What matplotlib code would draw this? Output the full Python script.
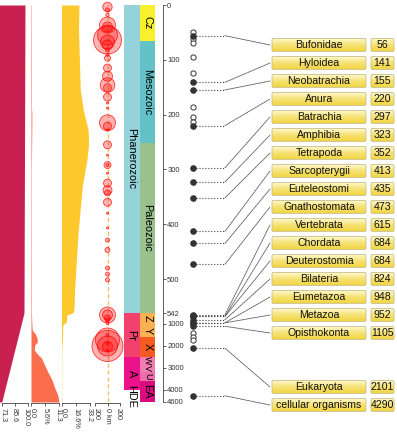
import numpy as np
import matplotlib.pyplot as plt
import matplotlib.transforms as mtransforms
from matplotlib.patches import ConnectionPatch, FancyBboxPatch
from matplotlib.colors import LinearSegmentedColormap

plt.rcParams['font.family'] = ['Liberation Sans', 'DejaVu Sans']

# time scale of the chart (Ma -> image row); Precambrian is squeezed
scale_ma = [-1000, 0, 500, 542, 1000, 2000, 3000, 4000, 4600, 10000]
scale_px = [-543, 5, 279, 313, 324, 346, 368, 390, 402, 510]

# panel 1 : solar luminosity (%)
lum_t = [0, 542, 4600]
lum_v = [97.2, 96.1, 71.3]

# panel 2 (%)
p2_t = [0, 100, 186, 200, 240, 300, 542, 917, 1273, 1455, 1636, 1818, 1955,
        2182, 2364, 2545, 2864, 3182, 3545, 3909, 4250, 4600]
p2_v = [0.15, 0.2, 0.2, 0.35, 0.3, 0.15, 0.2, 0.3, 0.5, 1.8, 2.4, 2.6, 1.5,
        1.3, 2.6, 4.2, 5.5, 6.8, 8.5, 9.6, 10.8, 11.3]

# panel 3 : oxygen (%)
o2_t = [0, 46, 100, 155, 192, 228, 255, 283, 332, 416, 505, 538, 542, 625,
        917, 1045, 1727, 2182, 4600]
o2_v = [20.0, 19.5, 20.5, 21.5, 25.0, 30.5, 31.0, 29.0, 23.7, 19.0, 15.4,
        14.2, 13.0, 6.0, 5.5, 1.5, 1.0, 0.3, 0.2]

# panel 4 : impact craters (age Ma, size km)
crater_t = [3.6, 9, 18, 36.5, 40, 55, 64, 67.5, 73, 82, 91, 97, 115, 130, 146,
            151, 168, 179, 188, 215, 221, 228, 255, 274, 292, 292, 307, 325,
            338, 343, 360, 380, 407, 429, 447, 480, 491, 501, 625, 625, 750,
            830, 958, 1500, 1727, 1860, 2000, 2000, 2020, 2180]
crater_km = [75, 32, 27, 128, 80, 160, 224, 112, 80, 32, 24, 48, 64, 80, 117,
             64, 64, 16, 16, 128, 64, 16, 64, 16, 56, 24, 16, 64, 72, 48, 64,
             16, 16, 32, 40, 32, 32, 32, 128, 80, 48, 32, 24, 24, 192, 24, 248,
             160, 80, 16]

# geologic time scale
eon_names = ['Phanerozoic', 'Pr', 'A', 'HDE']
eon_start = [0, 542, 2500, 4000]
eon_end = [542, 2500, 4000, 4600]
eon_colors = ['#95D3DB', '#F1416C', '#EC128A', '#FFFFFF']
era_names = ['Cz', 'Mesozoic', 'Paleozoic', 'Z', 'Y', 'X', 'W', 'V', 'U', 'EA']
era_start = [0, 66, 251, 542, 1000, 1600, 2500, 2800, 3200, 3600]
era_end = [66, 251, 542, 1000, 1600, 2500, 2800, 3200, 3600, 4600]
era_colors = ['#F7F02A', '#63C2C8', '#99C08D', '#FDB150', '#FDB150', '#F45A22',
              '#F37AB0', '#F27DB2', '#EF6DAA', '#D90D80']
time_ticks = [0, 100, 200, 300, 400, 500, 542, 1000, 2000, 3000, 4000, 4600]

# tree nodes
taxa = ['Bufonidae', 'Hyloidea', 'Neobatrachia', 'Anura', 'Batrachia',
        'Amphibia', 'Tetrapoda', 'Sarcopterygii', 'Euteleostomi',
        'Gnathostomata', 'Vertebrata', 'Chordata', 'Deuterostomia',
        'Bilateria', 'Eumetazoa', 'Metazoa', 'Opisthokonta', 'Eukaryota',
        'cellular organisms']
taxa_age = [56, 141, 155, 220, 297, 323, 352, 413, 435, 473, 615, 684, 684,
            824, 948, 952, 1105, 2101, 4290]
other_nodes = [49, 62, 69, 95, 124, 186, 204, 213, 1409, 1591, 1727]


def fwd(t):
    return np.interp(t, scale_ma, scale_px)


def inv(p):
    return np.interp(p, scale_px, scale_ma)


W, H = 397, 434
fig = plt.figure(figsize=(W / 100, H / 100), dpi=100)


def time_axes(x0, x1):
    ax = fig.add_axes([x0 / W, 1 - 402 / H, (x1 - x0) / W, 397 / H])
    ax.set_yscale('function', functions=(fwd, inv))
    ax.set_ylim(4600, 0)
    ax.patch.set_visible(False)
    for s in ['left', 'right', 'top']:
        ax.spines[s].set_visible(False)
    ax.set_yticks([])
    ax.tick_params(axis='y', which='both', left=False, right=False)
    return ax


def bottom_axis(ax, ticks, labels):
    ax.spines['bottom'].set_position(('outward', 1))
    ax.spines['bottom'].set_bounds(ticks[0], ticks[-1])
    ax.spines['bottom'].set_linewidth(0.6)
    ax.spines['bottom'].set_color('#444444')
    ax.set_xticks(ticks)
    ax.set_xticklabels(labels, rotation=-90, fontsize=5.2, color='#333333')
    ax.tick_params(axis='x', length=2, width=0.6, pad=1.5, color='#444444')
    # end labels sit a little inward, as in the original
    lbls = ax.get_xticklabels()
    for lab, dx in [(lbls[0], 1.6), (lbls[-1], -1.6)]:
        off = mtransforms.ScaledTranslation(dx / 100, 0, fig.dpi_scale_trans)
        lab.set_transform(lab.get_transform() + off)


# panel 1
ax1 = time_axes(0, 27.5)
ax1.set_xlim(69.4, 100)
ax1.fill_betweenx(lum_t, 60, lum_v, color='#C8204F', lw=0)
bottom_axis(ax1, [71.3, 85.65, 100], ['71.3', '85.6', '100.0'])

# panel 2
ax2 = time_axes(31, 59)
ax2.set_xlim(0, 11.3)
ax2.fill_betweenx(p2_t, 0, p2_v, color='#FA6E4C', lw=0)
bottom_axis(ax2, [0, 5.65, 11.3], ['0.0', '5.6%', '11.3'])

# panel 3
ax3 = time_axes(61.5, 90.5)
ax3.set_xlim(0, 33.2)
ax3.fill_betweenx(o2_t, 0, o2_v, color='#FDC82B', lw=0)
bottom_axis(ax3, [0, 16.6, 33.2], ['0.0', '16.6%', '33.2'])

# panel 4
ax4 = time_axes(95, 120)
ax4.set_xlim(-200, 200)
ax4.axvline(0, color='#F5C06A', lw=1, ls=(0, (3, 2)))
px_per_km = 25 / 400
sizes = [(2 * k * px_per_km * 0.72) ** 2 for k in crater_km]
ax4.scatter([0] * len(crater_t), crater_t, s=sizes, facecolor=(1, 0, 0, 0.3),
            edgecolor=(1, 0, 0, 0.75), lw=0.6, clip_on=False, zorder=3)
bottom_axis(ax4, [-200, 0, 200], ['200', '0 km', '200'])

# geologic time scale
axg = time_axes(124, 163)
axg.set_xlim(124, 163)
axg.spines['bottom'].set_visible(False)
axg.set_xticks([])
for name, a, b, c in zip(eon_names, eon_start, eon_end, eon_colors):
    axg.bar(132, b - a, bottom=a, width=16, color=c, lw=0)
    mid = inv((fwd(a) + fwd(b)) / 2)
    axg.text(131.5, mid, name, rotation=-90, ha='center', va='center', fontsize=7.8)
for name, a, b, c in zip(era_names, era_start, era_end, era_colors):
    axg.bar(147.5, b - a, bottom=a, width=15, color=c, lw=0)
    mid = inv((fwd(a) + fwd(b)) / 2)
    fs = 7.8 if b - a > 500 or a < 600 else 6.5
    axg.text(147.5, mid, name, rotation=-90, ha='center', va='center', fontsize=fs)
axg.spines['right'].set_visible(True)
axg.spines['right'].set_bounds(0, 4600)
axg.spines['right'].set_linewidth(0.6)
axg.spines['right'].set_color('#444444')
axg.yaxis.tick_right()
axg.set_yticks(time_ticks)
axg.set_yticklabels([str(t) for t in time_ticks])
axg.yaxis.set_minor_locator(plt.NullLocator())
axg.tick_params(axis='y', right=True, length=2, width=0.6, pad=1, labelsize=5.5,
                color='#444444', labelcolor='#333333')

# tree nodes
axt = time_axes(185, 240)
axt.set_xlim(185, 240)
axt.axis('off')
axt.scatter([193] * len(other_nodes), other_nodes, s=14, facecolor='white',
            edgecolor='#333333', lw=0.7, clip_on=False, zorder=3)
axt.scatter([193] * len(taxa_age), taxa_age, s=14, color='#333333',
            clip_on=False, zorder=3)
axt.hlines(taxa_age, 196, 225, colors='#444444', linestyles=':', lw=0.8)

# labels
axl = fig.add_axes([0, 0, 1, 1])
axl.axis('off')
grad = LinearSegmentedColormap.from_list('g', ['#FFFBD0', '#F6E27A', '#F2D645'])
slots = list(range(17)) + [19, 20]
for name, age, slot in zip(taxa, taxa_age, slots):
    yc = 45 + 18 * slot
    for x0, w, txt in [(272, 94, name), (371, 23, str(age))]:
        box = FancyBboxPatch((x0, yc - 6.5), w, 13,
                             boxstyle='round,pad=0,rounding_size=1.5',
                             facecolor='none', edgecolor='#C9BE86', lw=0.6,
                             zorder=3)
        axl.add_patch(box)
        im = axl.imshow(np.linspace(0, 1, 20).reshape(-1, 1), cmap=grad,
                        extent=(x0, x0 + w, yc + 6.5, yc - 6.5),
                        aspect='auto', zorder=2)
        im.set_clip_path(box)
        axl.text(x0 + w / 2, yc + 0.5, txt, ha='center', va='center',
                 fontsize=7.6, color='#111111', zorder=4)
    con = ConnectionPatch(xyA=(225, age), coordsA=axt.transData,
                          xyB=(270, yc), coordsB=axl.transData,
                          color='#555555', lw=0.6, linestyle=(0, (2, 1)))
    fig.add_artist(con)
axl.set_xlim(0, W)
axl.set_ylim(H, 0)

fig.savefig('out.png', dpi=100)
